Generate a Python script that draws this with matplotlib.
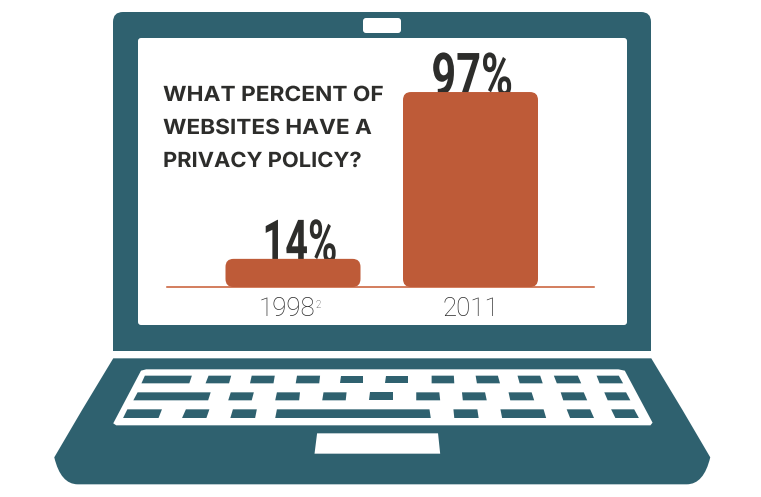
import matplotlib
matplotlib.use("Agg")
import matplotlib.pyplot as plt
from matplotlib.patches import FancyBboxPatch, Polygon, PathPatch
from matplotlib.path import Path
from matplotlib.patheffects import AbstractPathEffect
from matplotlib.transforms import Affine2D

years = ["1998", "2011"]
percents = [14, 97]
labels = ["14%", "97%"]
title_lines = ["WHAT PERCENT OF", "WEBSITES HAVE A", "PRIVACY POLICY?"]

TEAL = "#2F616F"; ORANGE = "#BE5B38"; INK = "#2D2D2B"
W, H = 761, 497
fig = plt.figure(figsize=(W/100, H/100), dpi=100, facecolor="white")


class Stretch(AbstractPathEffect):
    """Scale a text horizontally about its start, keeping it a real text."""
    def __init__(self, sx):
        super().__init__()
        self.sx = sx

    def draw_path(self, renderer, gc, tpath, affine, rgbFace=None):
        cx = affine.transform_point((0, 0))[0]
        t = affine + Affine2D().translate(-cx, 0).scale(self.sx, 1).translate(cx, 0)
        renderer.draw_path(gc, tpath, t, rgbFace)


# decoration layer, pixel coordinates
bg = fig.add_axes([0, 0, 1, 1]); bg.set_xlim(0, W); bg.set_ylim(H, 0); bg.axis("off")

def rrect(x0, y0, x1, y1, r, fc):
    bg.add_patch(FancyBboxPatch((x0, y0), x1-x0, y1-y0, boxstyle=f"round,pad=0,rounding_size={r}", fc=fc, ec="none"))

# lid
verts = [(113, 351), (113, 22), (113, 12), (123, 12), (641, 12), (651, 12), (651, 22), (651, 351), (113, 351)]
codes = [Path.MOVETO, Path.LINETO, Path.CURVE3, Path.CURVE3, Path.LINETO, Path.CURVE3, Path.CURVE3, Path.LINETO, Path.CLOSEPOLY]
bg.add_patch(PathPatch(Path(verts, codes), fc=TEAL, ec="none"))
rrect(138, 38, 627, 325, 3, "white")
rrect(363, 18, 401, 33, 3, "white")

def Z(p): return (50 + p[0]/2.34, 340 + p[1]/3)
base = [(148, 55), (1407, 55), (1480, 210), (1545, 352), (1530, 433), (1490, 433), (65, 433), (25, 433), (10, 352), (75, 210), (148, 55)]
bcodes = [Path.MOVETO, Path.LINETO, Path.LINETO, Path.LINETO, Path.CURVE3, Path.CURVE3, Path.LINETO, Path.CURVE3, Path.CURVE3, Path.LINETO, Path.CLOSEPOLY]
bg.add_patch(PathPatch(Path([Z(p) for p in base], bcodes), fc=TEAL, ec="none"))

kb = [(225, 88), (1330, 88), (1345, 92), (1410, 248), (1405, 256), (155, 256), (148, 250), (213, 92)]
bg.add_patch(Polygon([Z(p) for p in kb], closed=True, fc="white", ec="none"))

rows = [
 (107, 130, [(222,332,326,214),(371,424,419,364),(472,526,523,468),(578,632,630,575),(681,733,733,679),(786,838,838,785),(893,945,946,893),(996,1048,1053,999),(1094,1147,1153,1099),(1179,1235,1243,1186),(1279,1331,1341,1286)]),
 (157, 181, [(205,376,370,195),(423,477,472,417),(531,585,583,527),(640,694,692,637),(748,802,802,747),(857,911,913,857),(964,1018,1022,966),(1073,1127,1133,1077),(1195,1249,1257,1201),(1297,1348,1358,1305)]),
 (208, 234, [(181,262,254,171),(318,373,366,309),(428,484,480,422),(531,888,891,527),(944,1000,1003,946),(1054,1155,1161,1058),(1209,1264,1273,1217),(1313,1367,1378,1323)]),
]
for top, bot, keys in rows:
    for a, b, c, d in keys:
        bg.add_patch(Polygon([Z((a, top)), Z((b, top)), Z((c, bot)), Z((d, bot))], closed=True, fc=TEAL, ec="none"))
bg.add_patch(Polygon([Z((625, 280)), Z((908, 280)), Z((913, 341)), Z((619, 341))], closed=True, fc="white", ec="none"))

# chart axes
PX_X, PX_Y = 177.5, 2.01
left, right, bottom, top = 167, 594, 287, 38
ax = fig.add_axes([left/W, 1-bottom/H, (right-left)/W, (bottom-top)/H])
ax.patch.set_alpha(0)
ax.set_xlim((left-293)/PX_X, (right-293)/PX_X)
ax.set_ylim(0, (bottom-top)/PX_Y)
ax.axis("off")
bw = 135/PX_X
ax.axhline(0, color="#C85A32", lw=1.1, zorder=1, clip_on=False)
label_dx = [-22, -28.2]
label_sx = [0.665, 0.725]
year_dx = [-4.7, 0]
for i, (v, lab) in enumerate(zip(percents, labels)):
    ax.add_patch(FancyBboxPatch((i-bw/2, 0), bw, v, boxstyle=f"round,pad=0,rounding_size={8/PX_X}",
                                mutation_aspect=PX_X/PX_Y, fc=ORANGE, ec="none", zorder=3))
    t = ax.annotate(lab, (i, v), xytext=(label_dx[i], -2.5), textcoords="offset points", ha="left", va="baseline",
                    fontsize=43, fontfamily="Roboto", fontweight="bold", color=INK, zorder=2)
    t.set_path_effects([Stretch(label_sx[i])])
    ax.annotate(years[i], (i, 0), xytext=(year_dx[i], -7.5), textcoords="offset points", ha="center", va="top",
                fontsize=18.5, fontfamily="Roboto", fontweight="light", color="#2A2A2A", clip_on=False)
ax.annotate("2", (0, 0), xytext=(16.5, -9), textcoords="offset points", ha="left", va="top",
            fontsize=7, fontfamily="Roboto", fontweight="light", color="#2A2A2A")

title_sx = [1.09, 1.085, 1.05]
for y, line, sx in zip([95, 128, 161], title_lines, title_sx):
    t = bg.text(163, y, line, fontsize=15, fontfamily="Inter", fontweight="bold", color=INK, ha="left", va="center")
    t.set_path_effects([Stretch(sx)])

fig.savefig("out.png", dpi=100, facecolor="white")
